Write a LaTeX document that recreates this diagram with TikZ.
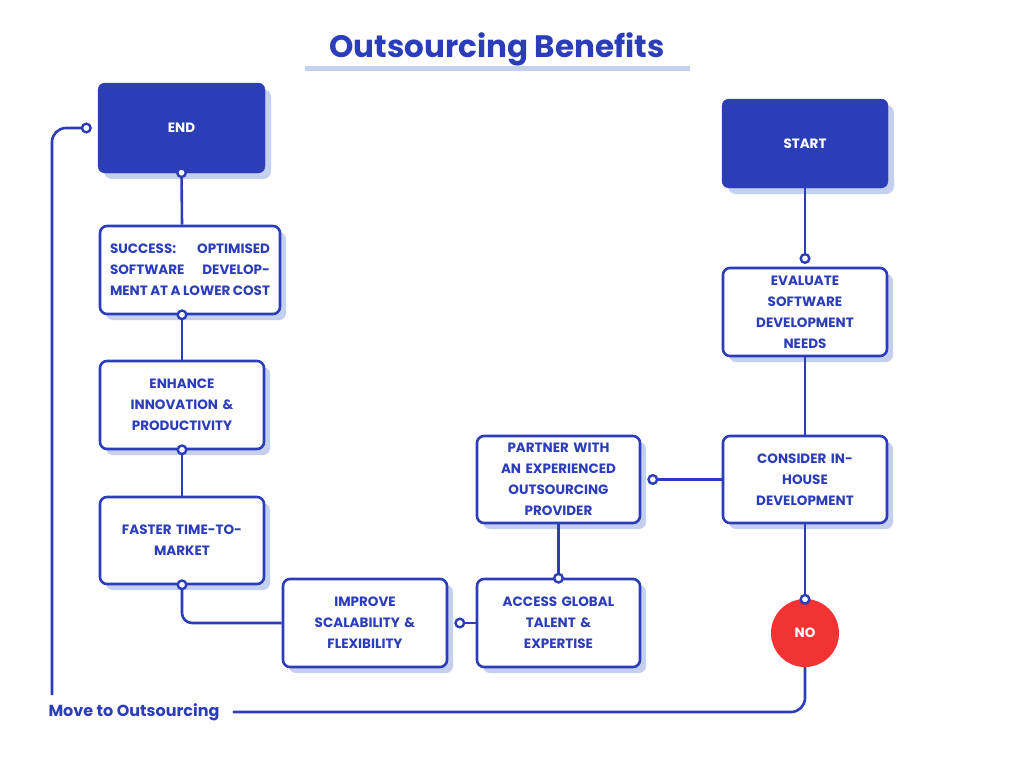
\documentclass[tikz,border=0pt]{standalone}
\usepackage{fontspec}
\setmainfont{Poppins}[BoldFont={Poppins Bold}]
\usetikzlibrary{arrows.meta}
\definecolor{mblue}{HTML}{2B3DB8}
\definecolor{shad}{HTML}{C5D0EE}
\definecolor{mred}{HTML}{F23333}
\begin{document}
\begin{tikzpicture}[x=1pt,y=-1pt,
  box/.style={draw=mblue,line width=2.6pt,rounded corners=7pt,fill=white,
    font=\fontsize{13.5}{21}\selectfont\bfseries,text=mblue,align=center,inner sep=0pt},
  dark/.style={fill=mblue,draw=mblue,rounded corners=7pt,text=white,font=\fontsize{13.5}{16}\selectfont\bfseries},
  con/.style={draw=mblue,line width=2.6pt},
  ct/.style={con,-{Circle[open,length=11pt,width=11pt,fill=white,line width=2.4pt]}},
  ]
\useasboundingbox (0,0) rectangle (1024,768);
% title
\node[font=\fontsize{31}{36}\selectfont\bfseries,text=mblue] (title) at (497,49) {Outsourcing Benefits};
\fill[shad] (305,66) rectangle (690,71);
\newcommand\bx[6]{%
 \fill[shad,rounded corners=7pt] (#2+6,#3+6) rectangle (#4+6,#5+6);
 \node[box,minimum width=#4-#2,minimum height=#5-#3,text width=#4-#2-12] (#1) at ({(#2+#4)/2},{(#3+#5)/2}) {#6};}
\fill[shad,rounded corners=7pt] (106,232) rectangle (286,320);
\node[box,minimum width=180,minimum height=88,text width=160,align=justify] (succ) at (190,270)
 {\hyphenpenalty=10000 SUCCESS: OPTIMISED SOFTWARE DEVELOPMENT AT A LOWER COST};
\bx{enh}{100}{361}{264}{449}{ENHANCE\\INNOVATION \&\\PRODUCTIVITY}
\bx{fast}{100}{497}{264}{584}{FASTER TIME-TO-\\MARKET}
\bx{impr}{283}{579}{447}{667}{IMPROVE\\SCALABILITY \&\\FLEXIBILITY}
\bx{acc}{477}{579}{640}{667}{ACCESS GLOBAL\\TALENT \&\\EXPERTISE}
\bx{part}{477}{436}{640}{523}{PARTNER WITH\\AN EXPERIENCED\\OUTSOURCING\\PROVIDER}
\bx{eval}{723}{268}{887}{356}{EVALUATE\\SOFTWARE\\DEVELOPMENT\\NEEDS}
\bx{cons}{723}{436}{887}{523}{CONSIDER IN-\\HOUSE\\DEVELOPMENT}
\fill[shad,rounded corners=8pt] (104,89) rectangle (271,179);
\node[dark,minimum width=167,minimum height=90] (end) at (181.5,128) {END};
\fill[shad,rounded corners=8pt] (728,105) rectangle (894,194);
\node[dark,minimum width=166,minimum height=89] (start) at (805,143.5) {START};
\node[circle,fill=mred,minimum size=68,inner sep=0pt,text=white,font=\fontsize{13.5}{16}\selectfont\bfseries] (no) at (805,633) {NO};
% connectors
\coordinate (c1) at (805,264);
\draw[ct] ([yshift=7]start.south) -- (c1);
\draw[con] (eval.south) -- (cons.north);
\draw[ct] (cons.west) -- ([xshift=6]part.east);
\draw[ct] (part.south) -- ([yshift=-6]acc.north);
\draw[ct] (acc.west) -- ([xshift=6]impr.east);
\draw[ct,rounded corners=10pt] (impr.west) -| ([yshift=6]fast.south);
\draw[ct] (enh.north) -- ([yshift=6]enh.north|-succ.south);
\draw[ct] (fast.north) -- ([yshift=6]enh.south);
\draw[ct] (enh.north|-succ.north) -- ([yshift=6]end.south);
\draw[ct] (cons.south) -- ([yshift=-6]no.north);
\node[font=\fontsize{16}{19}\selectfont\bfseries,text=mblue] (move) at (134,712) {Move to Outsourcing};
\draw[con,rounded corners=14pt] (no.south) |- ([xshift=10]move.east);
\draw[ct,rounded corners=14pt] (52,695) |- ([xshift=-6]end.west);
\end{tikzpicture}
\end{document}
